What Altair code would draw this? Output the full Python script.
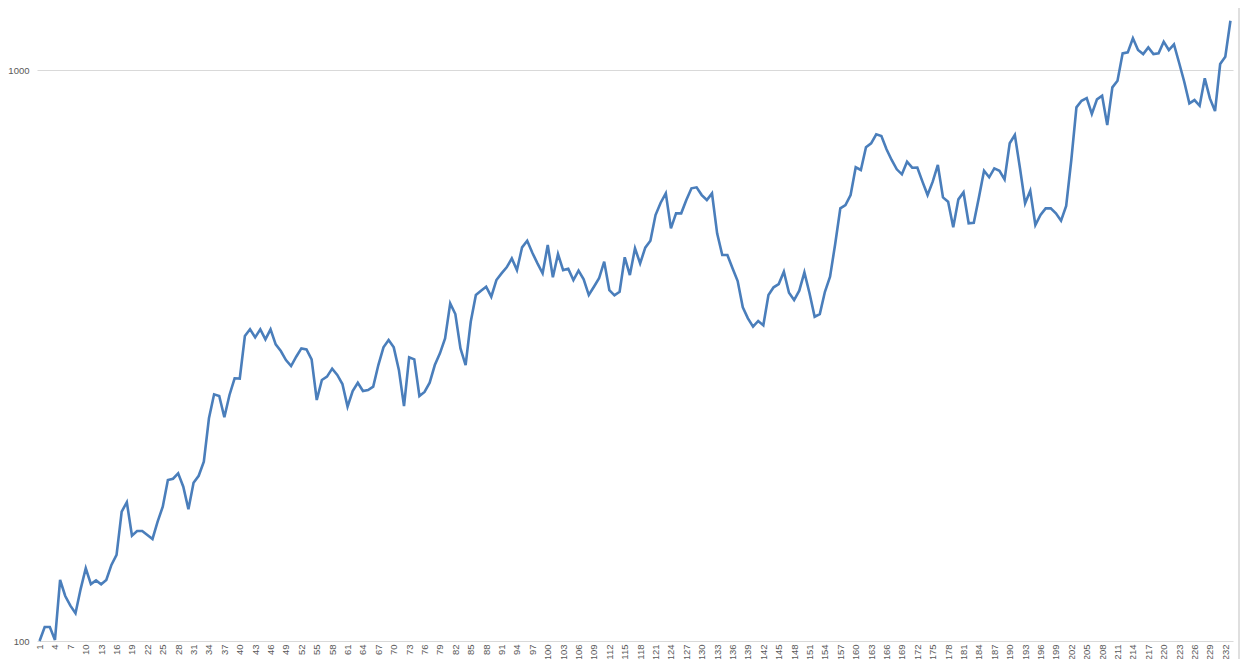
import altair as alt
import pandas as pd

values = [
    100.0, 105.8, 105.8, 100.4, 127.9, 119.9, 115.3, 111.8, 123.3, 134.1,
    125.8, 127.7, 125.7, 127.9, 135.9, 141.5, 168.5, 175.0, 152.9, 155.8,
    155.8, 153.3, 150.9, 161.8, 171.9, 191.4, 192.4, 196.6, 186.3, 170.1,
    189.3, 194.7, 206.1, 245.5, 270.4, 268.6, 246.5, 269.7, 288.5, 288.1,
    342.1, 351.5, 340.3, 351.5, 337.5, 351.5, 330.8, 322.0, 310.5, 303.1,
    314.7, 325.5, 324.2, 311.4, 264.3, 286.5, 290.4, 299.9, 292.4, 281.9,
    257.3, 274.1, 283.4, 274.1, 275.2, 278.9, 304.3, 326.8, 336.6, 326.8,
    298.4, 257.9, 314.0, 311.4, 268.6, 273.0, 283.4, 304.3, 319.0, 338.9,
    390.3, 373.8, 325.5, 304.3, 362.3, 403.6, 410.7, 417.4, 400.9, 428.8,
    440.5, 451.3, 467.9, 446.3, 489.2, 502.5, 478.6, 458.6, 440.5, 493.7,
    433.5, 476.1, 446.3, 448.8, 428.8, 445.2, 430.0, 403.6, 417.4, 431.8,
    461.6, 411.8, 403.1, 409.0, 469.9, 437.5, 487.2, 458.6, 488.5, 502.5,
    557.3, 585.6, 608.2, 528.2, 561.1, 561.1, 592.0, 620.6, 623.1, 604.0,
    592.0, 608.2, 517.6, 474.3, 474.3, 449.6, 427.1, 384.1, 367.4, 355.2,
    363.5, 357.2, 403.6, 416.4, 421.9, 443.4, 407.4, 395.5, 410.7, 442.3,
    406.4, 369.8, 373.8, 409.0, 434.5, 495.8, 572.5, 580.2, 604.0, 675.6,
    668.3, 732.3, 744.2, 771.8, 766.5, 726.4, 695.8, 670.1, 656.7, 691.0,
    674.5, 675.0, 637.5, 604.0, 637.5, 682.0, 598.4, 587.9, 530.3, 593.6,
    610.6, 539.0, 540.0, 598.4, 666.3, 648.9, 672.8, 666.3, 643.6, 744.2,
    769.6, 672.8, 584.2, 614.6, 535.3, 557.3, 572.5, 572.5, 561.1, 544.6,
    578.0, 695.8, 860.3, 883.4, 893.2, 837.5, 888.4, 901.6, 801.1, 932.6,
    957.8, 1069.6, 1074.0, 1136.6, 1084.0, 1066.6, 1095.9, 1066.6, 1069.6, 1121.2,
    1084.0, 1109.3, 1029.9, 953.9, 874.3, 886.0, 865.9, 967.1, 892.0, 847.6,
    1024.5, 1055.0, 1220.0,
]
periods = list(range(1, len(values) + 1))
x_tick_labels = list(range(1, len(values) + 1, 3))
y_tick_labels = [100, 1000]

df = pd.DataFrame({"period": periods, "value": values})

FONT = "Liberation Sans"
LABEL = "#595959"

line = alt.Chart(df).mark_line(color="#4a7ebb", strokeWidth=2.6).encode(
    x=alt.X(
        "period:Q",
        scale=alt.Scale(domain=[0.5, len(values) + 0.5], nice=False, zero=False),
        axis=alt.Axis(
            values=x_tick_labels,
            labelAngle=270,
            labelFontSize=9.5,
            labelColor=LABEL,
            labelFont=FONT,
            labelPadding=3,
            labelOverlap=False,
            labelBound=False,
            labelFlush=False,
            ticks=False,
            domain=False,
            grid=False,
            title=None,
        ),
    ),
    y=alt.Y(
        "value:Q",
        scale=alt.Scale(type="log", domain=[100, 1274], nice=False, zero=False),
        axis=alt.Axis(
            values=y_tick_labels,
            format="d",
            labelFontSize=9.5,
            labelColor=LABEL,
            labelFont=FONT,
            labelPadding=8,
            labelFlush=False,
            ticks=False,
            domain=False,
            grid=True,
            gridColor="#d9d9d9",
            gridWidth=1,
            title=None,
        ),
    ),
)

border = alt.Chart(pd.DataFrame({"k": [0]})).mark_rule(color="#bfbfbf", strokeWidth=1).encode(
    x=alt.value(1202), x2=alt.value(1202), y=alt.value(-10), y2=alt.value(649)
)

chart = alt.layer(border, line).properties(
    width=1196,
    height=631,
    padding={"left": 29, "top": 2, "right": 7, "bottom": 18},
    autosize=alt.AutoSizeParams(type="none"),
    background="white",
).configure_view(stroke=None)

chart.save("out.html", embed_options={"renderer": "svg", "actions": False})
